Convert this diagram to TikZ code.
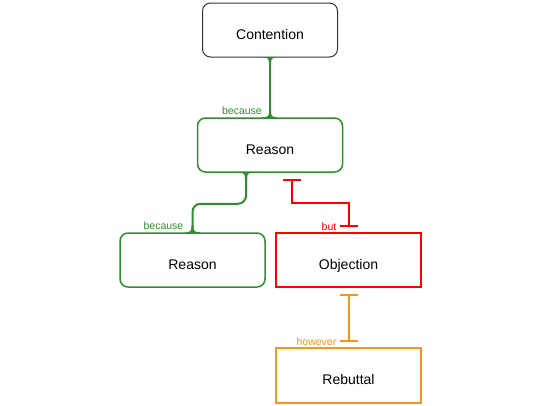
\documentclass[tikz,border=0pt]{standalone}
\usepackage{fontspec}
\setmainfont{Liberation Sans}
\usetikzlibrary{arrows.meta,positioning,calc}
\definecolor{mBecause}{HTML}{2F8F2F}
\definecolor{mBut}{HTML}{FF0000}
\definecolor{mHowever}{HTML}{F7941D}
\definecolor{mClaim}{HTML}{333333}

\begin{document}
\begin{tikzpicture}[x=1pt,y=-1pt,
    box/.style={draw,minimum width=145pt,minimum height=54pt,line width=1.5pt,
      text height=20pt,text depth=2pt,font=\fontsize{14}{16}\selectfont},
    roundbox/.style={box,rounded corners=8pt},
    lbl/.style={font=\fontsize{10.5}{12}\selectfont,inner sep=0pt,anchor=east},
    link/.style={line width=2pt},
    tee/.style={{Bar[width=18pt]}-{Bar[width=18pt]},shorten <=6pt,shorten >=5pt},
    flare/.pic={\fill (-7,0.5) -- (-7,0) .. controls (-1.5,0) and (-1,-1.5) .. (-1,-7) -- (1,-7)
      .. controls (1,-1.5) and (1.5,0) .. (7,0) -- (7,0.5) -- cycle;}]
        \useasboundingbox (0,0) rectangle (540,405);
        \node[roundbox,draw=mClaim,line width=1pt,minimum width=135pt] (contention) at (270,30) {Contention};
        \node[roundbox,draw=mBecause] (reason) at (270,145) {Reason};
        \node[roundbox,draw=mBecause] (reasonL) at (192.5,260) {Reason};
        \node[box,draw=mBut] (objection) at (348.5,260) {Objection};
        \node[box,draw=mHowever,minimum height=55pt] (rebuttal) at (348.5,375.5) {Rebuttal};
        % because
        \draw[link,mBecause] (contention.south) -- (reason.north);
        \draw[link,mBecause,rounded corners=8pt] ([xshift=-24pt]reason.south) -- ++(0,31) -| (reasonL.north);
        \pic[rotate=180,color=mBecause] at (contention.south) {flare};
        \pic[color=mBecause] at (reason.north) {flare};
        \pic[rotate=180,color=mBecause] at ([xshift=-24pt]reason.south) {flare};
        \pic[color=mBecause] at (reasonL.north) {flare};
        % but / however
        \draw[link,mBut,tee] ([xshift=22pt]reason.south) -- ++(0,30) -| (objection.north);
        \draw[link,mHowever,tee] (objection.south) -- (rebuttal.north);
        \node[lbl,text=mBecause] (because1) at ([xshift=-8pt,yshift=7pt]reason.north) {because};
        \node[lbl,text=mBecause] (because2) at ([xshift=-9pt,yshift=7pt]reasonL.north) {because};
        \node[lbl,text=mBut] (but) at ([xshift=-12pt,yshift=6pt]objection.north) {but};
        \node[lbl,text=mHowever] (however) at ([xshift=-12pt,yshift=6pt]rebuttal.north) {however};
      \end{tikzpicture}
\end{document}
